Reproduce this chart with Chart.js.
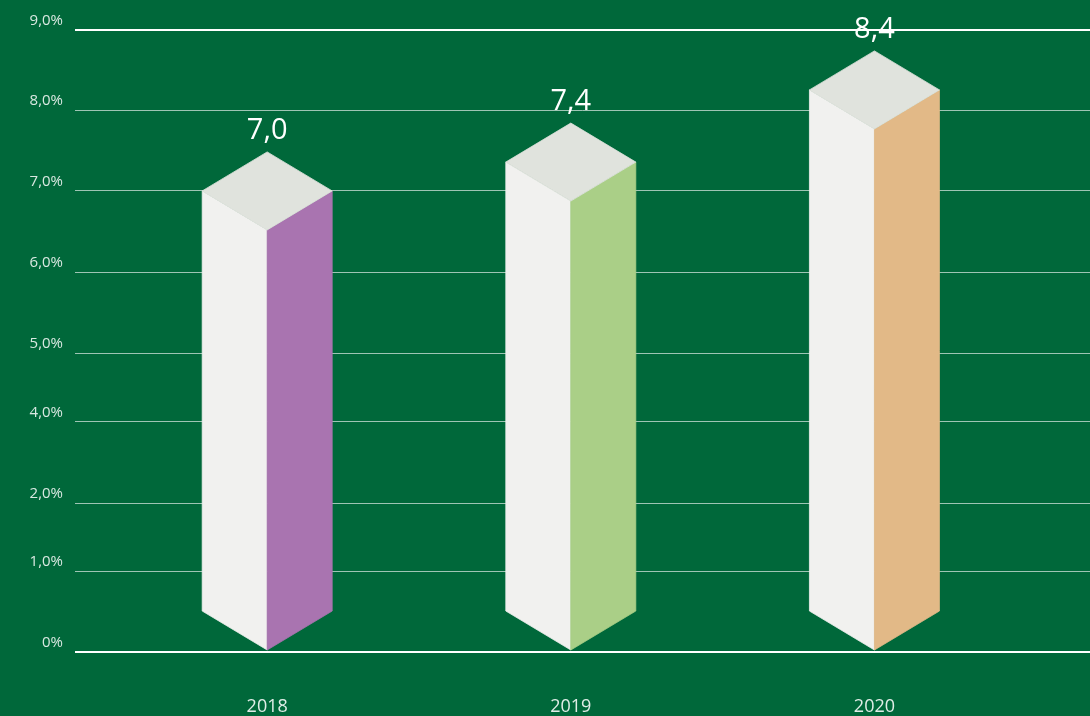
<!DOCTYPE html>
<html>
<head>
<meta charset="utf-8">
<script src="https://cdn.jsdelivr.net/npm/chart.js@4.4.0/dist/chart.umd.min.js"></script>
<style>
  html, body { margin: 0; padding: 0; background: #00683a; }
  canvas { display: block; }
</style>
</head>
<body>
<canvas id="graficoInflacion" width="1090" height="716"></canvas>
<script>
// datos
const anios = ['2018', '2019', '2020'];
const inflacion = [7.0, 7.4, 8.4];
const ejeValores = [0, 1, 2, 4, 5, 6, 7, 8, 9];
const ejeEtiquetas = ['0%', '1,0%', '2,0%', '4,0%', '5,0%', '6,0%', '7,0%', '8,0%', '9,0%'];

const coloresLado = ['#a974b0', '#aacf87', '#e2b987'];

// escala lineal por tramos: cada valor de corte tiene su fraccion de altura
class EscalaTramos extends Chart.LinearScale {
  static id = 'tramos';

  getPixelForValue(value) {
    const cortes = this.options.cortes;
    let i = 1;
    while (i < cortes.length - 1 && value > cortes[i][0]) i++;
    const [v0, f0] = cortes[i - 1];
    const [v1, f1] = cortes[i];
    return this.getPixelForDecimal(f0 + (value - v0) / (v1 - v0) * (f1 - f0));
  }

  getValueForPixel(pixel) {
    const cortes = this.options.cortes;
    const f = this.getDecimalForPixel(pixel);
    let i = 1;
    while (i < cortes.length - 1 && f > cortes[i][1]) i++;
    const [v0, f0] = cortes[i - 1];
    const [v1, f1] = cortes[i];
    return v0 + (f - f0) / (f1 - f0) * (v1 - v0);
  }
}
Chart.register(EscalaTramos);

function poligono(ctx, color, puntos) {
  ctx.beginPath();
  puntos.forEach(([px, py], i) => (i ? ctx.lineTo(px, py) : ctx.moveTo(px, py)));
  ctx.closePath();
  ctx.fillStyle = color;
  ctx.strokeStyle = color;
  ctx.lineWidth = 0.8;
  ctx.fill();
  ctx.stroke();
}

// dibuja cada barra como una caja en perspectiva y su valor encima
const cajas3d = {
  id: 'cajas3d',
  beforeDatasetDraw(chart, args, opts) {
    const ctx = chart.ctx;
    const d = opts.fondo;
    ctx.save();
    args.meta.data.forEach(bar => {
      const half = bar.width / 2;
      const x = bar.x;
      const y = bar.y;
      const base = Math.min(bar.base, chart.chartArea.bottom) - 2;
      poligono(ctx, opts.frente, [[x - half, y], [x, y + d], [x, base], [x - half, base - d]]);
      poligono(ctx, bar.options.backgroundColor, [[x, y + d], [x + half, y], [x + half, base - d], [x, base]]);
      poligono(ctx, opts.tapa, [[x - half, y], [x, y - d], [x + half, y], [x, y + d]]);
    });
    ctx.restore();
    return false;
  },
  afterDatasetsDraw(chart, args, opts) {
    const ctx = chart.ctx;
    const meta = chart.getDatasetMeta(0);
    ctx.save();
    ctx.font = '29px "Open Sans"';
    ctx.fillStyle = '#ffffff';
    ctx.textAlign = 'center';
    ctx.textBaseline = 'alphabetic';
    meta.data.forEach((bar, i) => {
      const texto = inflacion[i].toFixed(1).replace('.', ',');
      ctx.fillText(texto, bar.x, bar.y - opts.fondo - 13);
    });
    ctx.restore();
  }
};

Chart.defaults.font.family = '"Open Sans", sans-serif';

const bordeGrid = v => v === 0 || v === 9;

new Chart(document.getElementById('graficoInflacion'), {
  type: 'bar',
  data: {
    datasets: [{
      data: inflacion.map((v, i) => ({ x: i, y: v })),
      backgroundColor: coloresLado,
      barThickness: 130,
      yAxisID: 'yBarras'
    }]
  },
  options: {
    responsive: false,
    animation: false,
    events: [],
    layout: { padding: { top: 30, right: 0, bottom: 0, left: 0 } },
    plugins: {
      legend: { display: false },
      tooltip: { enabled: false },
      cajas3d: { fondo: 39, frente: '#f1f1ef', tapa: '#e0e3dd' }
    },
    scales: {
      x: {
        type: 'linear',
        offset: false,
        bounds: 'data',
        min: -0.633,
        max: 2.71,
        afterBuildTicks: s => { s.ticks = anios.map((_, i) => ({ value: i })); },
        afterFit: s => { s.height = 64; },
        grid: { display: false },
        border: { display: false },
        ticks: {
          callback: (v, i) => anios[i],
          color: 'rgba(255,255,255,0.88)',
          font: { size: 18 },
          padding: 36,
          maxRotation: 0
        }
      },
      y: {
        type: 'tramos',
        min: 0,
        max: 9,
        cortes: [[0, 0], [1, 81 / 622], [2, 149 / 622], [4, 230 / 622], [5, 299 / 622],
                 [6, 380 / 622], [7, 461 / 622], [8, 542 / 622], [9, 1]],
        afterBuildTicks: s => { s.ticks = ejeValores.map(v => ({ value: v })); },
        afterFit: s => { s.width = 75; },
        border: { display: false },
        grid: {
          drawTicks: false,
          color: c => bordeGrid(c.tick.value) ? '#ffffff' : 'rgba(255,255,255,0.62)',
          lineWidth: c => bordeGrid(c.tick.value) ? 2 : 1
        },
        ticks: {
          callback: (v, i) => ejeEtiquetas[i],
          color: 'rgba(255,255,255,0.85)',
          font: { size: 15 },
          padding: 12,
          labelOffset: -9
        }
      },
      yBarras: {
        type: 'linear',
        display: false,
        min: 0.61,
        max: 9.23
      }
    }
  },
  plugins: [cajas3d]
});
</script>
</body>
</html>
